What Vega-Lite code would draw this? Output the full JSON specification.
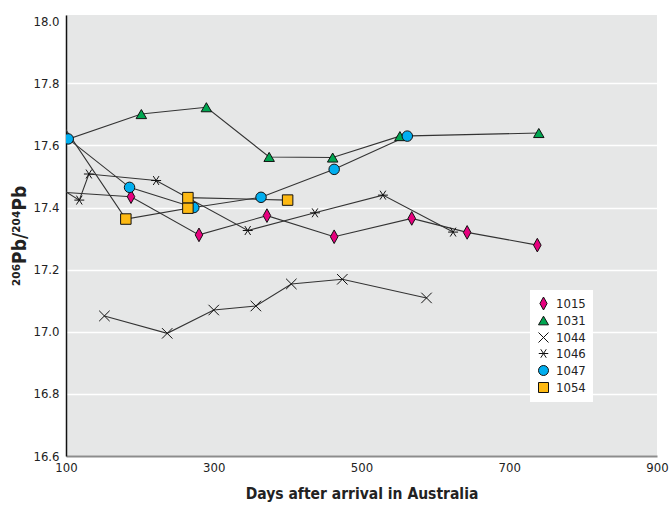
{
  "$schema": "https://vega.github.io/schema/vega-lite/v6.json",
  "width": 591,
  "height": 441,
  "autosize": {"type": "none"},
  "padding": {"left": 66, "top": 15, "right": 13, "bottom": 52},
  "background": "white",
  "config": {
    "font": "DejaVu Sans Condensed, Liberation Sans Narrow, sans-serif",
    "view": {"fill": "#e6e7e7", "stroke": null},
    "axis": {"labelFont": "DejaVu Sans Condensed, Liberation Sans Narrow, sans-serif", "titleFont": "DejaVu Sans Condensed, Liberation Sans Narrow, sans-serif"}
  },
  "data": {"values": [
    {"s": "1015", "d": 90, "v": 17.45, "o": 0},
    {"s": "1015", "d": 188, "v": 17.435, "o": 1},
    {"s": "1015", "d": 280, "v": 17.312, "o": 2},
    {"s": "1015", "d": 372, "v": 17.374, "o": 3},
    {"s": "1015", "d": 463, "v": 17.306, "o": 4},
    {"s": "1015", "d": 568, "v": 17.365, "o": 5},
    {"s": "1015", "d": 643, "v": 17.32, "o": 6},
    {"s": "1015", "d": 738, "v": 17.279, "o": 7},
    {"s": "1031", "d": 90, "v": 17.61, "o": 0},
    {"s": "1031", "d": 202, "v": 17.701, "o": 1},
    {"s": "1031", "d": 290, "v": 17.723, "o": 2},
    {"s": "1031", "d": 375, "v": 17.563, "o": 3},
    {"s": "1031", "d": 461, "v": 17.561, "o": 4},
    {"s": "1031", "d": 552, "v": 17.63, "o": 5},
    {"s": "1031", "d": 740, "v": 17.64, "o": 6},
    {"s": "1044", "d": 152, "v": 17.051, "o": 0},
    {"s": "1044", "d": 237, "v": 16.995, "o": 1},
    {"s": "1044", "d": 300, "v": 17.07, "o": 2},
    {"s": "1044", "d": 357, "v": 17.083, "o": 3},
    {"s": "1044", "d": 405, "v": 17.154, "o": 4},
    {"s": "1044", "d": 474, "v": 17.169, "o": 5},
    {"s": "1044", "d": 588, "v": 17.109, "o": 6},
    {"s": "1046", "d": 90, "v": 17.465, "o": 0},
    {"s": "1046", "d": 118, "v": 17.424, "o": 1},
    {"s": "1046", "d": 131, "v": 17.508, "o": 2},
    {"s": "1046", "d": 222, "v": 17.487, "o": 3},
    {"s": "1046", "d": 346, "v": 17.326, "o": 4},
    {"s": "1046", "d": 437, "v": 17.383, "o": 5},
    {"s": "1046", "d": 529, "v": 17.44, "o": 6},
    {"s": "1046", "d": 624, "v": 17.321, "o": 7},
    {"s": "1047", "d": 103, "v": 17.621, "o": 0},
    {"s": "1047", "d": 186, "v": 17.465, "o": 1},
    {"s": "1047", "d": 273, "v": 17.4, "o": 2},
    {"s": "1047", "d": 364, "v": 17.433, "o": 3},
    {"s": "1047", "d": 463, "v": 17.523, "o": 4},
    {"s": "1047", "d": 562, "v": 17.63, "o": 5},
    {"s": "1054", "d": 90, "v": 17.685, "o": 0},
    {"s": "1054", "d": 181, "v": 17.363, "o": 1},
    {"s": "1054", "d": 265, "v": 17.398, "o": 2},
    {"s": "1054", "d": 265, "v": 17.432, "o": 3},
    {"s": "1054", "d": 400, "v": 17.424, "o": 4}
  ]},
  "encoding": {
    "x": {
      "field": "d", "type": "quantitative",
      "scale": {"domain": [100, 900], "nice": false, "zero": false},
      "axis": {
        "values": [100, 300, 500, 700, 900],
        "grid": false, "ticks": false,
        "domainColor": "#8c8c8c", "domainWidth": 2,
        "labelFontSize": 13, "labelColor": "#222", "labelPadding": 5,
        "labelFlush": false,
        "title": "Days after arrival in Australia",
        "titleFontSize": 15.5, "titleFontWeight": "bold", "titleColor": "#222",
        "titlePadding": 12
      }
    },
    "y": {
      "field": "v", "type": "quantitative",
      "scale": {"domain": [16.6, 18.02], "nice": false, "zero": false},
      "axis": {
        "values": [16.6, 16.8, 17.0, 17.2, 17.4, 17.6, 17.8, 18.0],
        "format": ".1f",
        "grid": true, "gridColor": "white", "gridWidth": 1.5,
        "gridOpacity": {"condition": {"test": "datum.value > 17.9", "value": 0}, "value": 1},
        "ticks": false,
        "domainColor": "#111", "domainWidth": 1.5,
        "labelFontSize": 13, "labelColor": "#222", "labelPadding": 7,
        "title": "²⁰⁶Pb/²⁰⁴Pb",
        "titleFontSize": 19, "titleFontWeight": "bold", "titleColor": "#222",
        "titlePadding": 3
      }
    }
  },
  "layer": [
    {
      "mark": {"type": "line", "color": "#333", "strokeWidth": 1.1, "clip": true},
      "encoding": {
        "detail": {"field": "s", "type": "nominal"},
        "order": {"field": "o", "type": "quantitative"}
      }
    },
    {
      "mark": {"type": "point", "filled": true, "stroke": "#111", "opacity": 1, "size": 110, "clip": true},
      "encoding": {
        "shape": {
          "field": "s", "type": "nominal",
          "scale": {
            "domain": ["1015", "1031", "1044", "1046", "1047", "1054"],
            "range": [
              "M0,-1.3L0.72,0L0,1.3L-0.72,0Z",
              "triangle-up",
              "M-1,-1L1,1M-1,1L1,-1",
              "M-0.95,0L0.95,0M-0.55,-0.85L0.55,0.85M-0.55,0.85L0.55,-0.85",
              "circle",
              "square"
            ]
          },
          "legend": {
            "title": null,
            "orient": "none", "legendX": 464, "legendY": 275,
            "fillColor": "white", "padding": 7,
            "labelFontSize": 13, "labelColor": "#222", "labelOffset": 6,
            "rowPadding": 2, "symbolSize": 100,
            "encode": {
              "symbols": {"update": {"stroke": {"value": "#111"}, "strokeWidth": {"value": 1.3}}}
            }
          }
        },
        "fill": {
          "field": "s", "type": "nominal",
          "scale": {
            "domain": ["1015", "1031", "1044", "1046", "1047", "1054"],
            "range": ["#e6007e", "#00a651", "transparent", "transparent", "#00aeef", "#fdb913"]
          }
        },
        "strokeWidth": {
          "field": "s", "type": "nominal",
          "scale": {
            "domain": ["1015", "1031", "1044", "1046", "1047", "1054"],
            "range": [1, 1, 2, 1.6, 1, 1]
          },
          "legend": null
        }
      }
    }
  ]
}
